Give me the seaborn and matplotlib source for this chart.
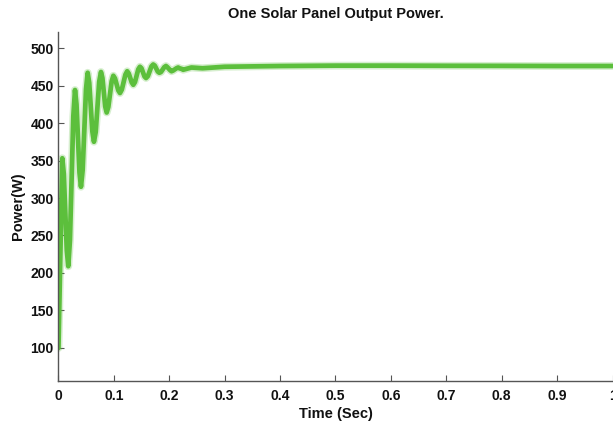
import matplotlib
matplotlib.use("Agg")
import matplotlib.pyplot as plt
import seaborn as sns
import pandas as pd

# Panel output power over time: start-up oscillation, then steady state
time_sec = [0.0, 0.0069, 0.0096, 0.015, 0.0177, 0.0207, 0.0268, 0.0298, 0.0325, 0.0379,
            0.0406, 0.0436, 0.0497, 0.0527, 0.0555, 0.0612, 0.064, 0.0672, 0.0735, 0.0767,
            0.0793, 0.0844, 0.087, 0.090, 0.096, 0.099, 0.102, 0.108, 0.111, 0.1143,
            0.1208, 0.124, 0.1268, 0.1323, 0.135, 0.138, 0.144, 0.147, 0.1498, 0.1553,
            0.158, 0.1613, 0.1678, 0.171, 0.1738, 0.1793, 0.182, 0.185, 0.191, 0.194,
            0.1965, 0.2015, 0.204, 0.207, 0.213, 0.216, 0.2183, 0.2228, 0.225, 0.24,
            0.26, 0.3, 0.35, 0.4, 0.5, 0.6, 0.7, 0.8, 0.9, 1.0]
power_w = [100, 353, 332, 230, 209, 244, 409, 444, 425, 334,
           315, 337, 445, 467, 453.5, 388.5, 375, 388, 455, 468,
           460, 422, 414, 421.5, 455.5, 463, 459.5, 443.5, 440, 444.5,
           464.5, 469, 466, 454, 451, 454.5, 471.5, 475, 473, 462,
           460, 462.5, 475.5, 478, 476.5, 468.5, 467, 468, 474.5, 476,
           474.5, 470.5, 469, 470, 473, 474, 473, 472, 471, 474,
           473, 475, 475.5, 476, 476.5, 476.5, 476.3, 476.2, 476, 476]

x_ticks = [0, 0.1, 0.2, 0.3, 0.4, 0.5, 0.6, 0.7, 0.8, 0.9, 1]
x_tick_labels = ["0", "0.1", "0.2", "0.3", "0.4", "0.5", "0.6", "0.7", "0.8", "0.9", "1"]
y_ticks = [100, 150, 200, 250, 300, 350, 400, 450, 500]

df = pd.DataFrame({"Time": time_sec, "Power": power_w})

sns.set_style("white")
plt.rcParams["font.family"] = ["Liberation Sans", "DejaVu Sans"]

fig = plt.figure(figsize=(6.13, 4.30), dpi=100)
ax = fig.add_axes([0.0954, 0.114, 0.9038, 0.8127])

line_color = "#5cbf3c"
# soft glow under the trace
sns.lineplot(data=df, x="Time", y="Power", ax=ax, color=line_color, lw=5.6,
             alpha=0.25, sort=False, estimator=None, solid_joinstyle="round",
             solid_capstyle="round")
sns.lineplot(data=df, x="Time", y="Power", ax=ax, color=line_color, lw=3.4,
             sort=False, estimator=None, solid_joinstyle="round",
             solid_capstyle="round")

ax.set_xlim(0, 1)
ax.set_ylim(56, 522)
ax.set_xticks(x_ticks)
ax.set_xticklabels(x_tick_labels)
ax.set_yticks(y_ticks)

for side in ["top", "right"]:
    ax.spines[side].set_visible(False)
for side in ["left", "bottom"]:
    ax.spines[side].set_color("#555555")
    ax.spines[side].set_linewidth(1.0)

ax.tick_params(axis="both", direction="in", length=4, width=0.8, color="#555555",
               labelsize=10, labelcolor="#111111", left=True, bottom=True)
ax.tick_params(axis="x", pad=6)
ax.tick_params(axis="y", pad=3.5)
for lab in ax.get_xticklabels() + ax.get_yticklabels():
    lab.set_fontweight("bold")

ax.set_title("One Solar Panel Output Power.", fontsize=10.5, fontweight="bold",
             color="#111111", pad=10)
ax.set_xlabel("Time (Sec)", fontsize=10.5, fontweight="bold", color="#111111", labelpad=3)
ax.set_ylabel("Power(W)", fontsize=10.5, fontweight="bold", color="#111111", labelpad=4)

fig.savefig("out.png", dpi=100)
